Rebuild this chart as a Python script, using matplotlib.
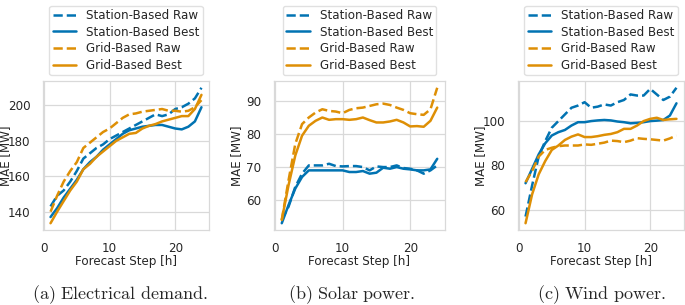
import matplotlib
matplotlib.use("Agg")
import matplotlib.pyplot as plt
import numpy as np
import seaborn as sns

steps = np.arange(1, 25)

# (a) electrical demand
demand_station_raw = [143, 149, 152, 157, 163, 170, 173, 176, 178, 181, 183, 185,
                      187, 189, 191, 193, 195, 194, 195, 198, 199, 201, 204, 210]
demand_station_best = [137, 142, 148, 153, 158, 164, 168, 171, 175, 178, 181, 184,
                       186, 187, 188, 188.5, 189, 189, 188, 187, 186.5, 188, 191, 199]
demand_grid_raw = [140, 149, 157, 163, 168, 176, 179, 182, 185, 187, 190, 193,
                   195, 195.5, 196.5, 197, 197.5, 198, 197, 197, 196.5, 197, 199, 203]
demand_grid_best = [133.5, 140, 146, 152, 157, 164, 167, 171, 174, 177, 180, 182,
                    184, 184.5, 187, 188.5, 189.5, 191, 192, 193, 194, 194, 198, 206]

# (b) solar power
solar_station_raw = [54, 58, 64, 68, 70.5, 70.5, 70.5, 71, 70.3, 70.2, 70.3, 70.3,
                     70, 69, 70.2, 70, 70, 70.5, 69.7, 69.5, 69, 68, 69, 70.5]
solar_station_best = [53, 58.5, 63.5, 67, 69, 69, 69, 69, 69, 69, 68.5, 68.5,
                      68.8, 68, 68.3, 69.8, 69.5, 70, 69.5, 69.3, 69, 69, 69.3, 72.5]
solar_grid_raw = [54, 66, 77, 83, 85, 86.5, 87.5, 87, 86.8, 86.3, 87.3, 87.8,
                  88, 88.5, 89, 89.2, 88.8, 88, 87.3, 86.3, 86, 85.8, 87.5, 94]
solar_grid_best = [54, 64.5, 73.5, 79.5, 82.5, 84, 85, 84.3, 84.5, 84.5, 84.3, 84.5,
                   85, 84.2, 83.5, 83.5, 83.8, 84.3, 83.5, 82.3, 82.4, 82.2, 84, 88]

# (c) wind power
wind_station_raw = [57, 71, 84, 91, 97, 100, 103, 106, 107, 108.5, 106, 106.5,
                    107.5, 107, 108.5, 109.5, 112, 111.5, 111.5, 114.5, 112, 109.5, 111, 115]
wind_station_best = [72, 78.5, 85, 90, 93.5, 95, 96, 98, 99.5, 99.5, 100, 100.3,
                     100.5, 100.3, 99.8, 99.5, 99, 99.2, 99.5, 100, 100.2, 100.5, 102.5, 108]
wind_grid_raw = [72.5, 77.5, 84, 87, 88, 88.7, 89, 89, 89, 89.5, 89.3, 89.8,
                 90.3, 91.2, 91, 90.5, 91.2, 92.3, 92, 91.8, 91.5, 91.2, 92.2, 93.5]
wind_grid_best = [54, 67, 76, 82, 87, 89, 91.5, 93, 94, 92.8, 92.8, 93.2,
                  93.8, 94.2, 95, 96.5, 96.5, 98, 100, 101, 101.5, 100.5, 100.8, 101]

panels = [
    ("(a) Electrical demand.", [140, 160, 180, 200],
     demand_station_raw, demand_station_best, demand_grid_raw, demand_grid_best),
    ("(b) Solar power.", [60, 70, 80, 90],
     solar_station_raw, solar_station_best, solar_grid_raw, solar_grid_best),
    ("(c) Wind power.", [60, 80, 100],
     wind_station_raw, wind_station_best, wind_grid_raw, wind_grid_best),
]

sns.set_theme(style="whitegrid")
plt.rcParams["font.family"] = ["DejaVu Sans"]
plt.rcParams["mathtext.fontset"] = "cm"

blue = "#0173b2"
orange = "#de8f05"
W, H = 685, 305
fs = 8.6

# axes boxes in pixels: left, right, top, bottom
boxes = [(43, 209, 81, 230), (274, 445, 81, 230), (518, 684, 81, 230)]
caption_x = [120, 352, 601]

fig = plt.figure(figsize=(W / 100, H / 100), dpi=100)
for (caption, yticks, s_raw, s_best, g_raw, g_best), (l, r, t, b), cx in zip(panels, boxes, caption_x):
    ax = fig.add_axes([l / W, (H - b) / H, (r - l) / W, (b - t) / H])
    lw = 1.8
    ax.plot(steps, s_raw, "--", color=blue, lw=lw, label="Station-Based Raw")
    ax.plot(steps, s_best, "-", color=blue, lw=lw, label="Station-Based Best")
    ax.plot(steps, g_raw, "--", color=orange, lw=lw, label="Grid-Based Raw")
    ax.plot(steps, g_best, "-", color=orange, lw=lw, label="Grid-Based Best")
    ax.set_xticks([0, 10, 20])
    ax.set_yticks(yticks)
    ax.tick_params(labelsize=fs, pad=3, colors=".15")
    ax.grid(color=".85", lw=0.9)
    for sp in ax.spines.values():
        sp.set_color(".85")
        sp.set_linewidth(0.9)
    ax.set_xlabel("Forecast Step [h]", fontsize=fs, labelpad=0, color=".15")
    ax.set_ylabel("MAE [MW]", fontsize=fs, color=".15", va="center")
    # ylabel centre sits about 37 px left of the axes frame
    ax.yaxis.set_label_coords(-37.2 / (r - l), 0.5)
    leg = ax.legend(loc="lower center", bbox_to_anchor=(0.5, 1.04), fontsize=fs,
                    frameon=True, borderaxespad=0, labelspacing=0.3, borderpad=0.28)
    leg.get_frame().set_edgecolor(".85")
    fig.text(cx / W, 1 - 294.5 / H, r"$\mathrm{" + caption.replace(" ", r"\ ") + "}$",
             ha="center", va="center", fontsize=13)

fig.savefig("out.png", dpi=100)
